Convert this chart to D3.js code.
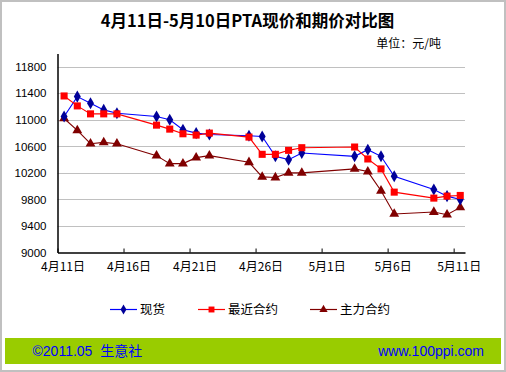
<!DOCTYPE html>
<html>
<head>
<meta charset="utf-8">
<script src="https://cdn.jsdelivr.net/npm/d3@7/dist/d3.min.js"></script>
<style>
html,body{margin:0;padding:0;background:#fff;}
svg{display:block;}
text{font-family:"Noto Sans CJK SC","Liberation Sans",sans-serif;}
</style>
</head>
<body>
<script>
const dates = ["2011-04-11","2011-04-12","2011-04-13","2011-04-14","2011-04-15",
  "2011-04-18","2011-04-19","2011-04-20","2011-04-21","2011-04-22",
  "2011-04-25","2011-04-26","2011-04-27","2011-04-28","2011-04-29",
  "2011-05-03","2011-05-04","2011-05-05","2011-05-06",
  "2011-05-09","2011-05-10","2011-05-11"];
const spot   = [11050,11350,11250,11150,11100,11050,11000,10850,10800,10780,10760,10750,10450,10400,10500,10450,10550,10450,10150,9950,9850,9800];
const nearby = [11360,11210,11090,11090,11090,10920,10860,10790,10770,10800,10740,10480,10480,10540,10580,10590,10410,10260,9910,9820,9850,9860];
const main   = [11020,10840,10640,10660,10640,10460,10340,10340,10430,10460,10360,10140,10130,10200,10200,10260,10220,9930,9580,9610,9570,9680];
const seriesNames = ["现货","最近合约","主力合约"];
const yTicks = [9000,9400,9800,10200,10600,11000,11400,11800];
const xTickDates = ["2011-04-11","2011-04-16","2011-04-21","2011-04-26","2011-05-01","2011-05-06","2011-05-11"];
const xTickLabels = ["4月11日","4月16日","4月21日","4月26日","5月1日","5月6日","5月11日"];
const title = "4月11日-5月10日PTA现价和期价对比图";
const unitLabel = "单位：元/吨";
const footerLeft = "©2011.05  生意社";
const footerRight = "www.100ppi.com";

const W = 506, H = 372;
const parse = d3.utcParse("%Y-%m-%d");
const DAY = 864e5;
const svg = d3.select("body").append("svg").attr("width", W).attr("height", H);

svg.append("rect").attr("x",1).attr("y",1).attr("width",W-2).attr("height",H-2)
  .attr("fill","#fff").attr("stroke","#C0C0C0").attr("stroke-width",2);

const x = d3.scaleUtc()
  .domain([parse("2011-04-11"), new Date(+parse("2011-05-11") + 0.86*DAY)])
  .range([57.5, 465]);
const y = d3.scaleLinear().domain([9000,12000]).range([252.5, 53.5]);
const px = d => x(new Date(+parse(d) + 0.5*DAY));

// title
svg.append("text").attr("x",247.5).attr("y",27).attr("text-anchor","middle")
  .attr("font-size",16.5).attr("font-weight","bold").attr("fill","#000").text(title);
svg.append("text").attr("x",441).attr("y",48).attr("text-anchor","end")
  .attr("font-size",12).attr("fill","#000").text(unitLabel);

// gridlines
svg.append("g").selectAll("line").data(yTicks.slice(1)).join("line")
  .attr("x1",x.range()[0]).attr("x2",x.range()[1])
  .attr("y1",d=>Math.round(y(d))+0.5).attr("y2",d=>Math.round(y(d))+0.5)
  .attr("stroke","#C0C0C0").attr("stroke-width",1);

// y axis
const ya = svg.append("g").attr("transform",`translate(${x.range()[0]},0)`)
  .call(d3.axisLeft(y).tickValues(yTicks).tickSize(0).tickPadding(11).tickFormat(d3.format("d")));
ya.select(".domain").attr("stroke","#000").attr("stroke-width",1.5);
ya.selectAll("text").attr("font-size",11.5).attr("fill","#000")
  .style("font-family","'Liberation Sans','Noto Sans CJK SC',sans-serif");

// x axis
const xa = svg.append("g").attr("transform",`translate(0,${y.range()[0]})`)
  .call(d3.axisBottom(x).tickValues(xTickDates.map(parse)).tickSizeInner(-4).tickSizeOuter(0)
    .tickPadding(10).tickFormat((d,i)=>xTickLabels[i]));
xa.select(".domain").attr("stroke","#000").attr("stroke-width",1.5);
xa.selectAll(".tick line").attr("stroke","#000");
xa.selectAll("text").attr("font-size",12).attr("fill","#000").attr("dx",5);

// series
const series = [
  {name:seriesNames[0], values:spot, line:"#0000FF", mark:"#000099", sym:d3.symbolDiamond, size:42},
  {name:seriesNames[1], values:nearby, line:"#FF0000", mark:"#FF0000", sym:d3.symbolSquare, size:50},
  {name:seriesNames[2], values:main, line:"#800000", mark:"#800000", sym:d3.symbolTriangle, size:42}
];
const lineGen = d3.line().x((d,i)=>px(dates[i])).y(d=>y(d));
const order = [2,0,1];
order.forEach(k=>{
  const s = series[k];
  svg.append("path").datum(s.values).attr("d",lineGen)
    .attr("fill","none").attr("stroke",s.line).attr("stroke-width",1.1);
});
order.forEach(k=>{
  const s = series[k];
  svg.append("g").selectAll("path").data(s.values).join("path")
    .attr("transform",(d,i)=>`translate(${px(dates[i])},${y(d)})`)
    .attr("d",d3.symbol(s.sym, s.size)).attr("fill",s.mark);
});

// legend
const legX = [110, 198, 310];
series.forEach((s,i)=>{
  const g = svg.append("g").attr("transform",`translate(${legX[i]},309)`);
  g.append("line").attr("x1",0).attr("x2",27).attr("y1",0.5).attr("y2",0.5)
    .attr("stroke",s.line).attr("stroke-width",1.2);
  g.append("path").attr("transform","translate(13.5,0.5)")
    .attr("d",d3.symbol(s.sym, s.size*0.7)).attr("fill",s.mark);
  g.append("text").attr("x",30).attr("y",5).attr("font-size",12.5).attr("fill","#000").text(s.name);
});

// footer
svg.append("rect").attr("x",5).attr("y",338).attr("width",496).attr("height",26).attr("fill","#99CC00");
svg.append("text").attr("x",32.5).attr("y",356).attr("font-size",14).attr("fill","#0000FF")
  .style("font-family","'Liberation Sans','Noto Sans CJK SC',sans-serif").attr("xml:space","preserve")
  .style("white-space","pre").text(footerLeft);
svg.append("text").attr("x",484).attr("y",356).attr("text-anchor","end").attr("font-size",14).attr("fill","#0000FF")
  .style("font-family","'Liberation Sans','Noto Sans CJK SC',sans-serif").text(footerRight);
</script>
</body>
</html>
